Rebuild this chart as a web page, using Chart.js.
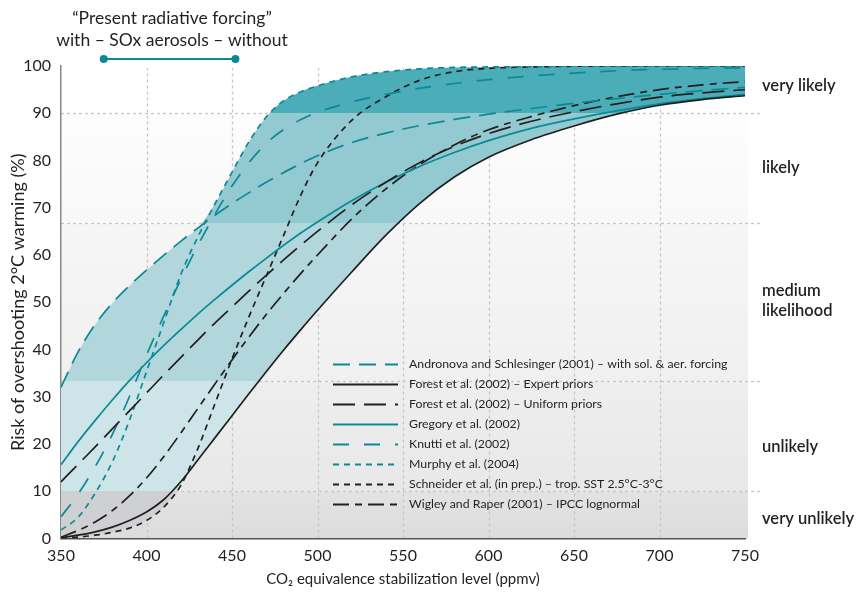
<!DOCTYPE html>
<html>
<head>
<meta charset="utf-8">
<script src="https://cdn.jsdelivr.net/npm/chart.js@4/dist/chart.umd.min.js"></script>
<style>
  html, body { margin: 0; padding: 0; background: #fff; }
</style>
</head>
<body>
<canvas id="riskChart" width="857" height="592"></canvas>
<script>
// CO2-eq stabilization levels (ppmv) and risk of overshooting 2°C (%)
const ppm = [350, 360, 370, 380, 390, 400, 410, 420, 430, 440, 450, 460, 470, 480, 490, 500, 520, 540, 560, 580, 600, 625, 650, 675, 700, 725, 750];
const andronova = [32, 39.5, 45.3, 49.8, 53.5, 56.8, 59.9, 62.9, 65.7, 68.4, 70.9, 73.2, 75.4, 77.4, 79.3, 81, 83.8, 85.8, 87.4, 88.7, 89.8, 91, 92.1, 93.1, 94, 94.8, 95.5];
const forestExpert = [0.2, 0.7, 1.4, 2.4, 3.8, 5.6, 8.2, 12, 16.6, 21.3, 26, 30.7, 35.3, 39.8, 44.1, 48.3, 56.4, 64.2, 71, 76.5, 80.7, 84.4, 87.3, 89.8, 91.7, 92.9, 93.7];
const forestUniform = [12, 15.7, 19.4, 23.2, 27, 30.8, 34.6, 38.3, 42, 45.6, 49, 52.4, 55.7, 58.9, 62, 65, 70.6, 75.4, 79.6, 83, 85.7, 88.3, 90.3, 92, 93.4, 94.3, 95];
const gregory = [15.6, 20.5, 25, 29.3, 33.4, 37.2, 40.8, 44.2, 47.5, 50.6, 53.6, 56.5, 59.3, 62, 64.6, 67, 71.5, 75.4, 78.8, 81.7, 84.2, 86.8, 88.8, 90.5, 92, 93.1, 94];
const knutti = [4.6, 9.4, 15.2, 22, 30, 38.8, 47, 54.8, 62, 68.6, 74.6, 79.6, 83.6, 86.5, 88.6, 90.2, 92.4, 94, 95.3, 96.3, 97.1, 97.9, 98.5, 99, 99.3, 99.5, 99.6];
const murphy = [1.8, 4.5, 9.6, 16.2, 25, 35.3, 45.6, 55.8, 63.8, 70.8, 77.5, 84, 89.2, 92.6, 94.5, 95.8, 97.7, 98.8, 99.4, 99.7, 99.8, 99.9, 100, 100, 100, 100, 100];
const schneider = [0.1, 0.3, 0.7, 1.3, 2.2, 3.8, 6.6, 11.2, 19, 28.5, 38, 47, 55.5, 64, 72.5, 79.5, 88.5, 93.5, 97, 98.8, 99.5, 99.8, 99.95, 100, 100, 100, 100];
const wigley = [0.3, 1.7, 3.5, 5.9, 9, 12.8, 17.3, 22.3, 27.5, 32.7, 37.8, 42.7, 47.4, 51.8, 56, 60, 67.6, 74, 79.2, 83.3, 86.5, 89.3, 91.6, 93.5, 95, 96, 96.7];

const seriesLabels = [
  'Andronova and Schlesinger (2001) – with sol. & aer. forcing',
  'Forest et al. (2002) – Expert priors',
  'Forest et al. (2002) – Uniform priors',
  'Gregory et al. (2002)',
  'Knutti et al. (2002)',
  'Murphy et al. (2004)',
  'Schneider et al. (in prep.) – trop. SST 2.5°C-3°C',
  'Wigley and Raper (2001) – IPCC lognormal'
];
const seriesValues = [andronova, forestExpert, forestUniform, gregory, knutti, murphy, schneider, wigley];

// likelihood bands (IPCC wording)
const bandEdges = [0, 10, 33.3, 66.7, 90, 100];
const likelihoodLabels = [['very unlikely'], ['unlikely'], ['medium', 'likelihood'], ['likely'], ['very likely']];
const likelihoodY = [4.1, 19.4, 50.3, 78.4, 95.8];
const verticalGrid = [400, 450, 500, 550, 600, 650, 700];

// "present radiative forcing" range: with / without SOx aerosols
const forcingPpm = [375, 452];

const TEAL = '#0b8a95';
const BLACK = '#231f20';
const FONT = 'Lato, "Open Sans", sans-serif';

const envelopeColors = ['#cfd0d3', '#cde5e9', '#b1d7dd', '#93c9d1', '#4aadb8'];
const backColors = [['#dcdcdc', '#e3e3e3'], ['#e8e8e8', '#eeeeee'], ['#f0f0f0', '#f6f6f6'], ['#f8f8f8', '#fdfdfd'], ['#ffffff', '#ffffff']];

const styles = [
  { color: TEAL, dash: [17, 9] },
  { color: BLACK, dash: [] },
  { color: BLACK, dash: [22, 9] },
  { color: TEAL, dash: [] },
  { color: TEAL, dash: [16, 15] },
  { color: TEAL, dash: [6, 5] },
  { color: BLACK, dash: [6, 5] },
  { color: BLACK, dash: [16, 6, 7, 6] }
];

function pts(values) {
  return values.map((v, i) => ({ x: ppm[i], y: v }));
}

// spread of all estimates, shaded by likelihood band
const envTop = ppm.map((p, i) => Math.max(...seriesValues.map(s => s[i])));
const envBottom = ppm.map((p, i) => Math.min(...seriesValues.map(s => s[i])));

function bandGradient(context) {
  const chart = context.chart;
  const area = chart.chartArea;
  const y = chart.scales.y;
  if (!area || !y) return envelopeColors[2];
  const g = chart.ctx.createLinearGradient(0, area.bottom, 0, area.top);
  const span = area.bottom - area.top;
  for (let i = 0; i < envelopeColors.length; i++) {
    const a = (area.bottom - y.getPixelForValue(bandEdges[i])) / span;
    const b = (area.bottom - y.getPixelForValue(bandEdges[i + 1])) / span;
    g.addColorStop(Math.max(0, Math.min(1, a)), envelopeColors[i]);
    g.addColorStop(Math.max(0, Math.min(1, b)), envelopeColors[i]);
  }
  return g;
}

const lineSets = seriesValues.map((vals, i) => ({
  label: seriesLabels[i],
  data: pts(vals),
  borderColor: styles[i].color,
  borderDash: styles[i].dash,
  borderWidth: 1.7,
  pointRadius: 0,
  fill: false,
  cubicInterpolationMode: 'monotone',
  order: 1
}));

const envelopeSets = [
  {
    label: 'envelopeTop',
    data: pts(envTop),
    borderWidth: 0,
    borderColor: 'rgba(0,0,0,0)',
    backgroundColor: bandGradient,
    pointRadius: 0,
    fill: '+1',
    cubicInterpolationMode: 'monotone',
    order: 5
  },
  {
    label: 'envelopeBottom',
    data: pts(envBottom),
    borderWidth: 0,
    borderColor: 'rgba(0,0,0,0)',
    pointRadius: 0,
    fill: false,
    cubicInterpolationMode: 'monotone',
    order: 6
  }
];

const backdrop = {
  id: 'backdrop',
  beforeDraw(chart) {
    const { ctx, chartArea: a, scales: { x, y } } = chart;
    ctx.save();
    for (let i = 0; i < bandEdges.length - 1; i++) {
      const y0 = y.getPixelForValue(bandEdges[i]);
      const y1 = y.getPixelForValue(bandEdges[i + 1]);
      const g = ctx.createLinearGradient(0, y0, 0, y1);
      g.addColorStop(0, backColors[i][0]);
      g.addColorStop(1, backColors[i][1]);
      ctx.fillStyle = g;
      ctx.fillRect(a.left, y1, a.right - a.left + 3, y0 - y1);
    }
    ctx.strokeStyle = '#c6c6c6';
    ctx.lineWidth = 1.3;
    ctx.setLineDash([3, 3]);
    verticalGrid.forEach(v => {
      const px = Math.round(x.getPixelForValue(v)) + 0.5;
      ctx.beginPath();
      ctx.moveTo(px, a.bottom);
      ctx.lineTo(px, a.top + 2);
      ctx.stroke();
    });
    bandEdges.slice(1, -1).forEach(v => {
      const py = Math.round(y.getPixelForValue(v)) + 0.5;
      ctx.beginPath();
      ctx.moveTo(a.left, py);
      ctx.lineTo(a.right + 18, py);
      ctx.stroke();
    });
    ctx.restore();
  },
  afterDraw(chart) {
    const { ctx, scales: { x, y } } = chart;
    ctx.save();
    ctx.fillStyle = '#231f20';
    ctx.textBaseline = 'middle';

    // likelihood labels on the right
    ctx.font = '600 16.5px ' + FONT;
    ctx.textAlign = 'left';
    likelihoodLabels.forEach((lines, i) => {
      const cy = y.getPixelForValue(likelihoodY[i]);
      lines.forEach((t, j) => {
        ctx.fillText(t, 762, cy + (j - (lines.length - 1) / 2) * 20);
      });
    });

    // top note
    ctx.font = '17.5px ' + FONT;
    ctx.textAlign = 'center';
    ctx.fillText('\u201CPresent radiative forcing\u201D', 172, 18);
    ctx.fillText('with \u2013 SOx aerosols \u2013 without', 172, 40);
    const fx0 = x.getPixelForValue(forcingPpm[0]);
    const fx1 = x.getPixelForValue(forcingPpm[1]);
    ctx.strokeStyle = TEAL;
    ctx.fillStyle = TEAL;
    ctx.lineWidth = 2;
    ctx.beginPath();
    ctx.moveTo(fx0, 59);
    ctx.lineTo(fx1, 59);
    ctx.stroke();
    [fx0, fx1].forEach(px => {
      ctx.beginPath();
      ctx.arc(px, 59, 4, 0, Math.PI * 2);
      ctx.fill();
    });

    // legend
    ctx.font = '12.3px ' + FONT;
    ctx.textAlign = 'left';
    ctx.fillStyle = '#231f20';
    seriesLabels.forEach((label, i) => {
      const ly = 364.5 + i * 20;
      ctx.strokeStyle = styles[i].color;
      ctx.lineWidth = 1.8;
      ctx.setLineDash(styles[i].dash);
      ctx.beginPath();
      ctx.moveTo(333, ly);
      ctx.lineTo(398, ly);
      ctx.stroke();
      ctx.setLineDash([]);
      ctx.fillText(label, 409, ly);
    });
    ctx.restore();
  }
};

const chart = new Chart(document.getElementById('riskChart'), {
  type: 'line',
  data: { datasets: lineSets.concat(envelopeSets) },
  options: {
    responsive: false,
    devicePixelRatio: 1,
    animation: false,
    layout: { padding: { top: 66, right: 112, left: 0, bottom: 0 } },
    plugins: { legend: { display: false }, tooltip: { enabled: false } },
    scales: {
      x: {
        type: 'linear',
        min: 350,
        max: 750,
        ticks: { stepSize: 50, padding: 8, color: '#231f20', font: { family: FONT, size: 16 } },
        grid: { display: false, drawTicks: false },
        border: { display: true, color: '#555', width: 1.5 },
        title: {
          display: true,
          text: 'CO\u2082 equivalence stabilization level (ppmv)',
          color: '#231f20',
          font: { family: FONT, size: 15 },
          padding: { top: 0, bottom: 4 }
        },
        afterFit(scale) { scale.height = 53.5; }
      },
      y: {
        min: 0,
        max: 100,
        ticks: { stepSize: 10, padding: 10, color: '#231f20', font: { family: FONT, size: 16 } },
        grid: { display: false, drawTicks: false },
        border: { display: true, color: '#888', width: 1.5 },
        title: {
          display: true,
          text: 'Risk of overshooting 2°C warming (%)',
          color: '#231f20',
          font: { family: FONT, size: 18 },
          padding: { top: 7, bottom: 0 }
        },
        afterFit(scale) { scale.width = 61; }
      }
    }
  },
  plugins: [backdrop]
});
</script>
</body>
</html>
